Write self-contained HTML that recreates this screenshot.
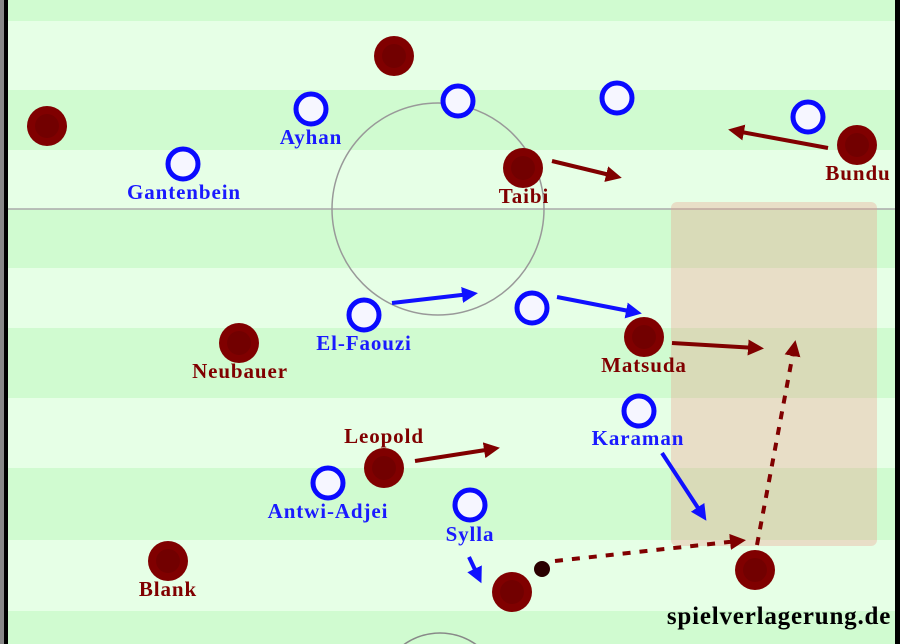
<!DOCTYPE html>
<html><head><style>
html,body{margin:0;width:900px;height:644px;overflow:hidden}
svg{display:block}
text{font-family:"Liberation Serif",serif;font-weight:bold;font-size:21px;letter-spacing:0.9px;text-anchor:middle}
.b{fill:#1a1aff}.r{fill:#800000}
</style></head><body>
<svg width="900" height="644" viewBox="0 0 900 644">
<defs>
<marker id="mr" markerWidth="4" markerHeight="4" refX="2" refY="2" orient="auto" markerUnits="strokeWidth"><path d="M0,0L4,2L0,4z" fill="#800000"/></marker>
<marker id="mb" markerWidth="4" markerHeight="4" refX="2" refY="2" orient="auto" markerUnits="strokeWidth"><path d="M0,0L4,2L0,4z" fill="#1010ff"/></marker>
<g id="R"><circle r="20" fill="#800000"/><circle r="12" fill="#720000"/></g>
<g id="B"><circle r="15" fill="#f6f6ff" stroke="#0a0aff" stroke-width="5"/></g>
</defs>
<rect width="900" height="644" fill="#d0fbd0"/>
<g fill="#e6ffe6">
<rect y="21" width="900" height="69"/><rect y="150" width="900" height="59"/><rect y="268" width="900" height="60"/><rect y="398" width="900" height="70"/><rect y="540" width="900" height="71"/>
</g>
<rect x="0" y="0" width="4" height="644" fill="#888"/><rect x="4" y="0" width="4" height="644" fill="#000"/>
<rect x="895" y="0" width="5" height="644" fill="#000"/>
<line x1="8" y1="209" x2="895" y2="209" stroke="#aaa" stroke-width="1.5"/>
<circle cx="438" cy="209" r="106" fill="none" stroke="#999" stroke-width="1.5"/>
<circle cx="440" cy="695" r="62" fill="none" stroke="#888" stroke-width="1.5"/>
<rect x="671" y="202" width="206" height="344" rx="6" fill="rgba(235,160,140,0.35)"/>
<g stroke="#800000" stroke-width="4" marker-end="url(#mr)">
<line x1="828" y1="148" x2="736" y2="131"/>
<line x1="552" y1="161" x2="614" y2="176"/>
<line x1="672" y1="343" x2="756" y2="348"/>
<line x1="415" y1="461" x2="492" y2="449"/>
<line x1="757" y1="545" x2="794" y2="348" stroke-dasharray="8,8"/>
<line x1="555" y1="561" x2="738" y2="541" stroke-dasharray="8,9"/>
</g>
<g stroke="#1010ff" stroke-width="4" marker-end="url(#mb)">
<line x1="392" y1="303" x2="470" y2="294"/>
<line x1="557" y1="297" x2="634" y2="312"/>
<line x1="662" y1="453" x2="702" y2="514"/>
<line x1="469" y1="557" x2="478" y2="576"/>
</g>
<use href="#R" x="394" y="56"/><use href="#R" x="47" y="126"/><use href="#R" x="523" y="168"/><use href="#R" x="857" y="145"/><use href="#R" x="239" y="343"/><use href="#R" x="644" y="337"/><use href="#R" x="384" y="468"/><use href="#R" x="168" y="561"/><use href="#R" x="512" y="592"/><use href="#R" x="755" y="570"/>
<use href="#B" x="311" y="109"/><use href="#B" x="458" y="101"/><use href="#B" x="617" y="98"/><use href="#B" x="808" y="117"/><use href="#B" x="183" y="164"/><use href="#B" x="364" y="315"/><use href="#B" x="532" y="308"/><use href="#B" x="639" y="411"/><use href="#B" x="328" y="483"/><use href="#B" x="470" y="505"/>
<circle cx="542" cy="569" r="8" fill="#2a0000"/>
<text class="b" x="311" y="144">Ayhan</text>
<text class="b" x="184" y="199">Gantenbein</text>
<text class="r" x="524" y="203">Taibi</text>
<text class="r" x="858" y="180">Bundu</text>
<text class="b" x="364" y="350">El-Faouzi</text>
<text class="r" x="240" y="378">Neubauer</text>
<text class="r" x="644" y="372">Matsuda</text>
<text class="r" x="384" y="443">Leopold</text>
<text class="b" x="638" y="445">Karaman</text>
<text class="b" x="328" y="518">Antwi-Adjei</text>
<text class="b" x="470" y="541">Sylla</text>
<text class="r" x="168" y="596">Blank</text>
<text x="779" y="624" style="font-size:25px;letter-spacing:0.8px;fill:#000">spielverlagerung.de</text>
</svg>
</body></html>
